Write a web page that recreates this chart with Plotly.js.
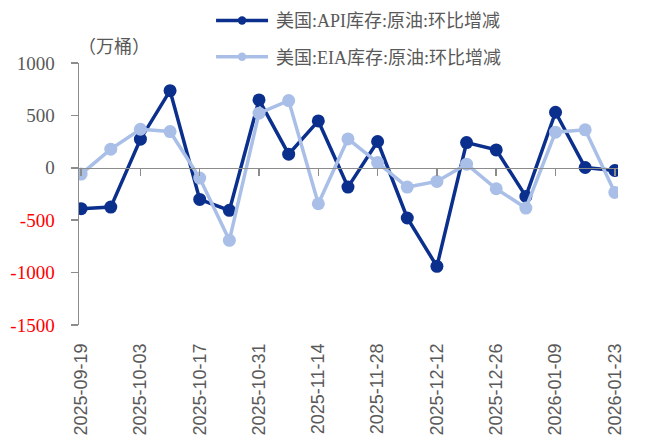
<!DOCTYPE html>
<html>
<head>
<meta charset="utf-8">
<script src="https://cdn.plot.ly/plotly-3.0.1.min.js"></script>
<style>html,body{margin:0;padding:0;background:#fff;}#chart{width:652px;height:441px;}</style>
</head>
<body>
<div id="chart"></div>
<script>
var dates = ["2025-09-19","2025-09-26","2025-10-03","2025-10-10","2025-10-17","2025-10-24","2025-10-31","2025-11-07","2025-11-14","2025-11-21","2025-11-28","2025-12-05","2025-12-12","2025-12-19","2025-12-26","2026-01-02","2026-01-09","2026-01-16","2026-01-23"];
var apiValues = [-390,-375,273,736,-302,-406,648,130,447,-184,251,-479,-940,241,171,-273,530,3,-26];
var eiaValues = [-60,178,368,346,-98,-692,521,641,-343,276,50,-184,-130,35,-200,-384,340,362,-235];
var seriesNames = ["美国:API库存:原油:环比增减","美国:EIA库存:原油:环比增减"];
var xTickVals = ["2025-09-19","2025-10-03","2025-10-17","2025-10-31","2025-11-14","2025-11-28","2025-12-12","2025-12-26","2026-01-09","2026-01-23"];
var yTickVals = [1000,500,0,-500,-1000,-1500];
var yTickText = yTickVals.map(function(v){
  return v < 0 ? '<span style="color:#ff0000">' + v + '</span>' : String(v);
});
var unitLabel = "（万桶）";

var fontFam = "'Liberation Serif', 'Noto Sans CJK SC', serif";
var grey = "#595959";

var traces = [
  {x: dates, y: apiValues, name: seriesNames[0], type: "scatter", mode: "lines+markers",
   legendgroup: "a",
   line: {color: "#0b2f8c", width: 3.5}, marker: {color: "#0b2f8c", size: 13}},
  {x: dates, y: eiaValues, name: seriesNames[1], type: "scatter", mode: "lines+markers",
   legendgroup: "b",
   line: {color: "#a9bfe7", width: 3.5}, marker: {color: "#a9bfe7", size: 13}}
];

var layout = {
  width: 652, height: 441,
  margin: {l: 79, r: 34, t: 63, b: 116, autoexpand: false},
  paper_bgcolor: "#fff", plot_bgcolor: "#fff",
  font: {family: fontFam, color: grey, size: 19},
  showlegend: true,
  legend: {
    x: 0.245, y: 0.995, xanchor: "left", yanchor: "top", yref: "container",
    font: {family: fontFam, size: 18, color: grey},
    itemwidth: 55,
    tracegroupgap: 10, bgcolor: "rgba(0,0,0,0)"
  },
  xaxis: {
    type: "date",
    range: ["2025-09-18 12:00", "2026-01-23 18:00"],
    tickvals: xTickVals, ticktext: xTickVals,
    tickangle: -90,
    anchor: "free", position: 0.6,
    showline: true, linecolor: "#8c8c8c", linewidth: 1.5,
    ticks: "outside", ticklen: 7, tickwidth: 1.5, tickcolor: "#8c8c8c",
    ticklabelstandoff: 160,
    showgrid: false, zeroline: false,
    tickfont: {family: "'Liberation Sans', Arial, sans-serif", size: 18, color: grey}
  },
  yaxis: {
    range: [-1500, 1000],
    tickvals: yTickVals, ticktext: yTickText,
    showline: true, linecolor: "#8c8c8c", linewidth: 1.5,
    ticks: "outside", ticklen: 7, tickwidth: 1.5, tickcolor: "#8c8c8c",
    ticklabelstandoff: 12,
    showgrid: false, zeroline: false,
    tickfont: {family: fontFam, size: 19, color: grey}
  },
  annotations: [{
    text: unitLabel, xref: "paper", yref: "paper", x: -0.005, y: 1.015,
    xanchor: "left", yanchor: "bottom", showarrow: false,
    font: {family: fontFam, size: 18, color: grey}
  }]
};

Plotly.newPlot("chart", traces, layout, {displayModeBar: false, staticPlot: true}).then(function(gd){
  // legend symbol styling: longer line, smaller marker
  gd.querySelectorAll('.legend .legendlines path').forEach(function(p){
    p.setAttribute('d', 'M5,0h52');
  });
  gd.querySelectorAll('.legend .legendpoints path').forEach(function(p){
    p.setAttribute('transform', 'translate(31,0) scale(0.65)');
  });
});
</script>
</body>
</html>
